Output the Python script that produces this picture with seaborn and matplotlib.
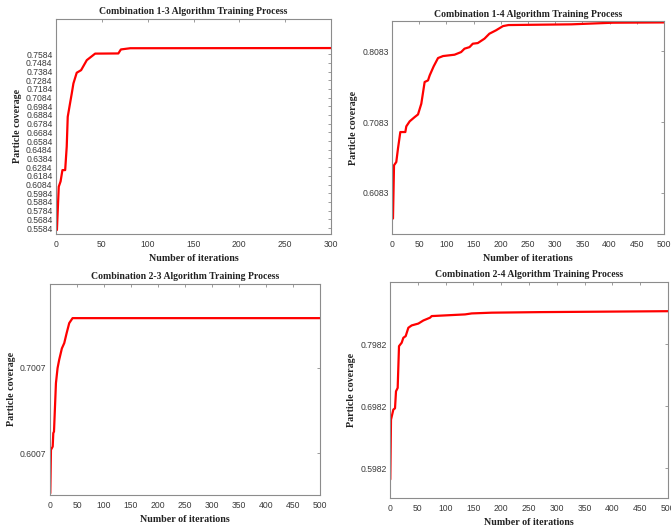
import matplotlib
matplotlib.use("Agg")
import matplotlib.pyplot as plt
import seaborn as sns
import pandas as pd
import numpy as np

# ---- data ----
titles = ["Combination 1-3 Algorithm Training Process",
          "Combination 1-4 Algorithm Training Process",
          "Combination 2-3 Algorithm Training Process",
          "Combination 2-4 Algorithm Training Process"]

it_13 = [1, 3, 5, 7, 10, 11.7, 12.8, 15.3, 17.2, 19, 22.6, 27.4, 33.6, 42.7, 68, 70.8, 81, 300]
cov_13 = [0.5561, 0.6059, 0.612, 0.625, 0.625, 0.652, 0.6863, 0.7017, 0.7132, 0.7247, 0.737,
          0.740, 0.7515, 0.7590, 0.7592, 0.7638, 0.7652, 0.7654]

it_14 = [1.8, 3.7, 7.9, 11, 15.3, 24.5, 26.3, 32.5, 41.7, 47.8, 53.9, 60, 66.2, 69.3, 76.6, 84.6,
         93.8, 115, 127, 133.3, 142.5, 148.5, 157.7, 170, 179, 191, 204, 214, 330, 406, 500]
cov_14 = [0.5723, 0.6473, 0.652, 0.671, 0.6942, 0.6942, 0.7022, 0.7093, 0.7153, 0.719, 0.7342,
          0.7647, 0.767, 0.7741, 0.7868, 0.7985, 0.8013, 0.8032, 0.8069, 0.8117, 0.8139, 0.8187,
          0.8196, 0.8258, 0.8328, 0.8375, 0.8435, 0.8450, 0.8460, 0.8483, 0.8487]

it_23 = [0.5, 1.8, 5, 6.1, 7.4, 11, 14, 17, 22, 26.4, 30.8, 35.6, 41.8, 500]
cov_23 = [0.554, 0.6047, 0.6085, 0.6242, 0.626, 0.6825, 0.700, 0.7097, 0.723, 0.7292, 0.7408,
          0.7525, 0.7583, 0.7583]

it_24 = [0.5, 1.8, 6, 9, 10.8, 13.8, 16.2, 21, 24, 28.2, 33, 39, 51, 60, 72, 75, 135, 147, 183,
         270, 500]
cov_24 = [0.580, 0.6766, 0.6929, 0.695, 0.7225, 0.728, 0.7955, 0.801, 0.809, 0.8117, 0.8252,
          0.829, 0.832, 0.837, 0.8415, 0.8441, 0.8468, 0.8484, 0.8496, 0.8505, 0.852]

yticks_13 = [round(0.5584 + 0.01 * i, 4) for i in range(21)]
yticks_14 = [0.6083, 0.7083, 0.8083]
yticks_23 = [0.6007, 0.7007]
yticks_24 = [0.5982, 0.6982, 0.7982]
xticks_300 = list(range(0, 301, 50))
xticks_500 = list(range(0, 501, 50))

# ---- style ----
sns.set_style("white")
plt.rcParams["font.family"] = ["Liberation Sans", "DejaVu Sans"]

fig = plt.figure(figsize=(6.71, 5.31), dpi=100)

panels = [
    (it_13, cov_13, titles[0], yticks_13, xticks_300, (0, 300), (0.5515, 0.7994),
     [56 / 671, 1 - 234 / 531, 275 / 671, 215.5 / 531]),
    (it_14, cov_14, titles[1], yticks_14, xticks_500, (0, 500), (0.5505, 0.8500),
     [392 / 671, 1 - 234 / 531, 272 / 671, 212.5 / 531]),
    (it_23, cov_23, titles[2], yticks_23, xticks_500, (0, 500), (0.552, 0.7987),
     [50 / 671, 1 - 495 / 531, 270 / 671, 211.5 / 531]),
    (it_24, cov_24, titles[3], yticks_24, xticks_500, (0, 500), (0.550, 0.900),
     [390 / 671, 1 - 498 / 531, 278 / 671, 216.5 / 531]),
]

serif = ["Liberation Serif", "DejaVu Serif"]
edge = "#8c8c8c"

for xs, ys, title, yt, xt, xl, yl, rect in panels:
    ax = fig.add_axes(rect)
    df = pd.DataFrame({"iter": xs, "cov": ys})
    sns.lineplot(data=df, x="iter", y="cov", ax=ax, color="#ff0000", linewidth=1.6,
                 estimator=None, sort=True)
    ax.set_xlim(*xl)
    ax.set_ylim(*yl)
    ax.set_xticks(xt)
    ax.set_yticks(yt)
    ax.set_yticklabels([f"{v:.4f}" for v in yt])
    ax.tick_params(direction="in", length=2.5, width=0.6, colors=edge, labelcolor="#3a3a3a",
                   labelsize=6.2, top=True, right=True)
    ax.tick_params(axis="x", pad=4.5)
    ax.tick_params(axis="y", pad=2.5)
    for s in ax.spines.values():
        s.set_color(edge)
        s.set_linewidth(0.8)
    ax.set_title(title, fontsize=7, fontweight="bold", family=serif, color="#222222", pad=3)
    ax.set_xlabel("Number of iterations", fontsize=7.2, fontweight="bold", family=serif,
                  color="#222222", labelpad=3.5)
    ax.set_ylabel("Particle coverage", fontsize=7.2, fontweight="bold", family=serif,
                  color="#222222", labelpad=3)

fig.savefig("out.png", dpi=100)
